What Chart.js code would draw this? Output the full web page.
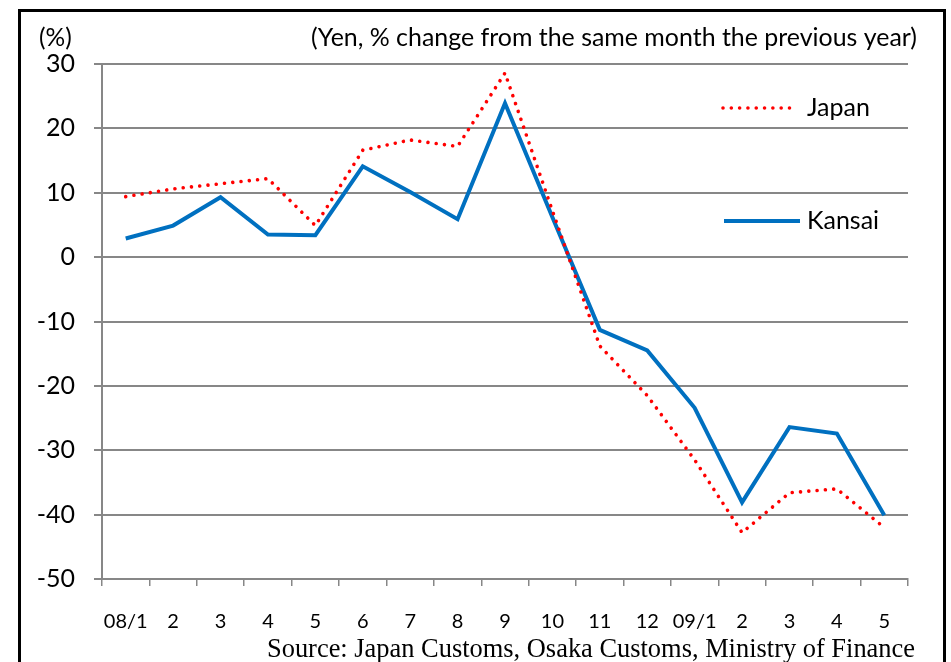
<!DOCTYPE html>
<html>
<head>
<meta charset="utf-8">
<script src="https://cdn.jsdelivr.net/npm/chart.js@4.4.1/dist/chart.umd.min.js"></script>
<style>
  html, body { margin: 0; padding: 0; background: #fff; }
  #wrap { width: 951px; height: 662px; }
</style>
</head>
<body>
<div id="wrap"><canvas id="chart" width="951" height="662"></canvas></div>
<script>
// Values (% change, yen basis)
const months = ['08/1', '2', '3', '4', '5', '6', '7', '8', '9', '10', '11', '12', '09/1', '2', '3', '4', '5'];
const japan = [9.4, 10.6, 11.4, 12.2, 4.9, 16.6, 18.2, 17.2, 28.6, 7.2, -13.8, -21.5, -31.5, -42.8, -36.6, -36.0, -42.0];
const kansai = [2.9, 4.9, 9.3, 3.5, 3.4, 14.1, 10.1, 5.9, 23.9, 6.2, -11.3, -14.5, -23.4, -38.1, -26.4, -27.4, -40.1];
const yMin = -50;
const yMax = 30;
const yStep = 10;

const unitText = '(%)';
const noteText = '(Yen, % change from the same month the previous year)';
const sourceText = 'Source: Japan Customs, Osaka Customs, Ministry of Finance';

const SANS = 'Lato, Carlito, "Open Sans", sans-serif';
const SERIF = '"Liberation Serif", "Times New Roman", serif';
const GRID = '#878787';

// frame, captions and the in-plot legend
const decorations = {
  id: 'decorations',
  afterDraw(chart) {
    const ctx = chart.ctx;
    ctx.save();

    // outer black frame
    ctx.strokeStyle = '#000';
    ctx.lineWidth = 3;
    ctx.strokeRect(19.5, 10.5, 925, 720);

    ctx.fillStyle = '#000';
    ctx.textBaseline = 'middle';
    ctx.font = '24.5px ' + SANS;
    ctx.textAlign = 'left';
    ctx.fillText(unitText, 39, 38);
    ctx.font = '25px ' + SANS;
    ctx.textAlign = 'right';
    ctx.fillText(noteText, 917, 38, 606);

    ctx.font = '26.5px ' + SERIF;
    ctx.textBaseline = 'alphabetic';
    ctx.fillText(sourceText, 915, 657, 648);

    // legend
    const items = [
      { ds: chart.data.datasets[0], y: 108, x1: 723, x2: 794 },
      { ds: chart.data.datasets[1], y: 221, x1: 724, x2: 800 }
    ];
    items.forEach(it => {
      ctx.beginPath();
      ctx.strokeStyle = it.ds.borderColor;
      ctx.lineWidth = it.ds.borderWidth;
      ctx.lineCap = it.ds.borderCapStyle || 'butt';
      ctx.setLineDash(it.ds.borderDash || []);
      ctx.moveTo(it.x1, it.y);
      ctx.lineTo(it.x2, it.y);
      ctx.stroke();
      ctx.setLineDash([]);
      ctx.fillStyle = '#000';
      ctx.font = '25px ' + SANS;
      ctx.textAlign = 'left';
      ctx.textBaseline = 'middle';
      ctx.fillText(it.ds.label, 807, it.y);
    });

    ctx.restore();
  }
};

new Chart(document.getElementById('chart'), {
  type: 'line',
  data: {
    labels: months,
    datasets: [
      {
        label: 'Japan',
        data: japan,
        borderColor: '#FF0000',
        borderWidth: 3.6,
        borderDash: [0.01, 8.3],
        borderCapStyle: 'round',
        pointRadius: 0,
        tension: 0,
        fill: false
      },
      {
        label: 'Kansai',
        data: kansai,
        borderColor: '#0070C0',
        borderWidth: 4,
        borderJoinStyle: 'miter',
        pointRadius: 0,
        tension: 0,
        fill: false
      }
    ]
  },
  options: {
    responsive: false,
    animation: false,
    layout: { padding: { top: 64, right: 43, left: 0, bottom: 0 } },
    plugins: {
      legend: { display: false },
      tooltip: { enabled: false }
    },
    scales: {
      x: {
        offset: true,
        afterFit: (scale) => { scale.height = 83; },
        grid: {
          offset: true,
          drawOnChartArea: false,
          drawTicks: true,
          tickLength: 7,
          color: GRID,
          lineWidth: 1.5
        },
        border: { color: GRID, width: 2 },
        ticks: {
          font: { family: SANS, size: 20 },
          color: '#000',
          padding: 24,
          maxRotation: 0,
          autoSkip: false
        }
      },
      y: {
        min: yMin,
        max: yMax,
        afterFit: (scale) => { scale.width = 102; },
        grid: {
          color: GRID,
          lineWidth: 2,
          tickLength: 8
        },
        border: { color: GRID, width: 2 },
        ticks: {
          stepSize: yStep,
          font: { family: SANS, size: 25 },
          color: '#000',
          padding: 19
        }
      }
    }
  },
  plugins: [decorations]
});
</script>
</body>
</html>
